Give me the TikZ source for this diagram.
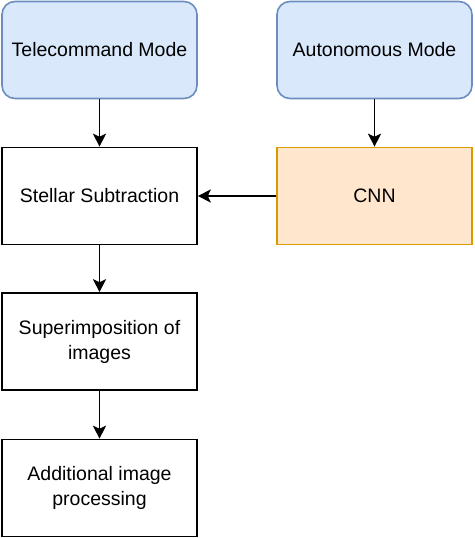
\documentclass[tikz,border=0pt]{standalone}
\usepackage{fontspec}
\setmainfont{Liberation Sans}
\usetikzlibrary{arrows.meta}
\definecolor{modefill}{HTML}{DAE8FC}
\definecolor{modeline}{HTML}{6C8EBF}
\definecolor{cnnfill}{HTML}{FFE6CC}
\definecolor{cnnline}{HTML}{D79B00}
\tikzset{
  stage/.style={draw,line width=1.6pt,minimum width=195pt,minimum height=97pt,align=center,font=\fontsize{19.5}{25}\selectfont},
  mode/.style={stage,draw=modeline,fill=modefill,rounded corners=13pt},
  net/.style={stage,draw=cnnline,fill=cnnfill},
  flow/.style={line width=1.6pt,-{Stealth[length=13pt,width=13pt,inset=3pt]}}
}
\begin{document}
\begin{tikzpicture}[x=1pt,y=-1pt]
    \useasboundingbox (0,0) rectangle (474,538);
    \node[mode] (tele) at (99.5,50) {Telecommand Mode};
    \node[mode] (auto) at (374.5,50) {Autonomous Mode};
    \node[stage] (stellar) at (99.5,196) {Stellar Subtraction};
    \node[net] (cnn) at (374.5,196) {CNN};
    \node[stage] (super) at (99.5,341.5) {Superimposition of\\images};
    \node[stage] (extra) at (99.5,488) {Additional image\\processing};
    \draw[flow] (tele)--(stellar);
    \draw[flow] (auto)--(cnn);
    \draw[flow] (cnn)--(stellar);
    \draw[flow] (stellar)--(super);
    \draw[flow] (super)--(extra);
  \end{tikzpicture}
\end{document}
